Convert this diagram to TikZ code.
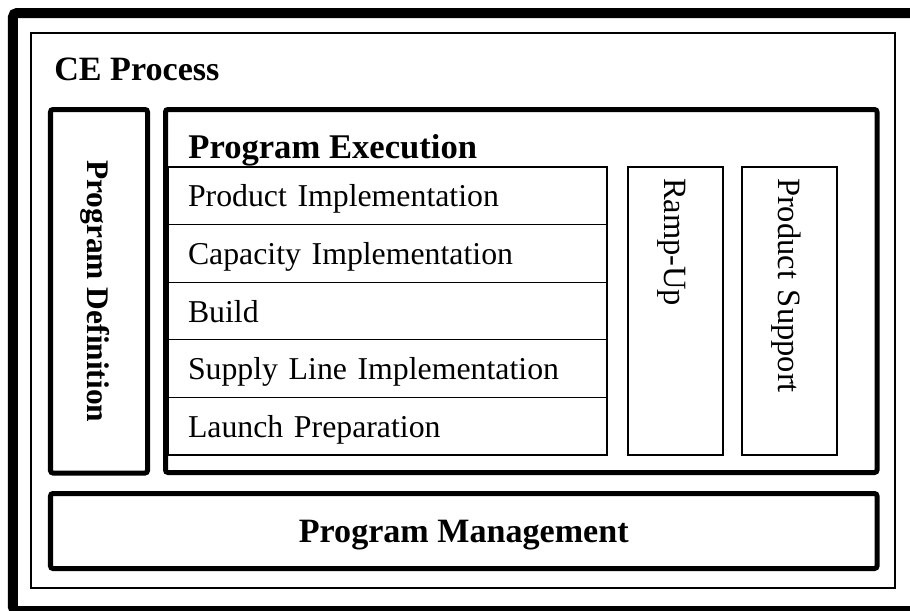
\documentclass[tikz,border=0pt]{standalone}
\usepackage{fontspec}
\setmainfont{Liberation Serif}
\usetikzlibrary{positioning}

\begin{document}
\begin{tikzpicture}[
  box/.style={rectangle, draw, line width=0.7pt, outer sep=0pt, inner sep=0pt},
  phase/.style={rectangle, draw, line width=0.1cm, rounded corners=0.05cm,
    outer sep=0pt, font=\fontsize{19.4}{23}\selectfont\bfseries},
  task/.style={box, font=\fontsize{18.5}{22}\selectfont,
    text height=0.44cm, text depth=0pt},
  row/.style={task, minimum width=8.78cm, minimum height=1.152cm,
    text width=7.98cm, inner xsep=0.4cm, font=\fontsize{18.1}{22}\selectfont},
  stage/.style={task, rotate=-90, minimum width=5.76cm, minimum height=1.9cm,
    text width=5.32cm, inner xsep=0.22cm},
  head/.style={font=\fontsize{19.4}{23}\selectfont\bfseries, inner sep=0pt,
    anchor=base west},
  node distance=0cm
]
  \useasboundingbox (0,0) rectangle (18.2,-12.2);
  \clip (0,0) rectangle (18.2,-12.2);

  % outer frame (runs off the page on the right)
  \draw[line width=0.2cm, rounded corners=0.08cm] (0.26,-0.26) rectangle (18.4,-12.22);

  \node[box, minimum width=17.28cm, minimum height=11.1cm, anchor=north west] (ce) at (0.62,-0.66) {};
  \node[head] (ceT) at (1.08,-1.6) {CE Process};

  \node[phase, rotate=-90, minimum width=7.27cm, minimum height=1.94cm,
    font=\fontsize{17.9}{21}\selectfont\bfseries,
    text height=0.44cm, text depth=0pt] (def) at (1.98,-5.825) {Program Definition};

  \node[phase, minimum width=14.23cm, minimum height=7.26cm, anchor=north west] (exec) at (3.31,-2.19) {};
  \node[head, font=\fontsize{19.7}{23}\selectfont\bfseries] (execT) at (3.76,-3.16) {Program Execution};

  \node[row, anchor=north west] (prod) at (3.36,-3.34) {Product Implementation};
  \node[row, below=of prod] (cap) {Capacity Implementation};
  \node[row, below=of cap] (build) {Build};
  \node[row, below=of build] (supply) {Supply Line Implementation};
  \node[row, below=of supply] (launch) {Launch Preparation};

  \node[stage] (ramp) at (13.51,-6.22) {Ramp-Up};
  \node[stage] (support) at (15.79,-6.22) {Product Support};

  \node[phase, minimum width=16.53cm, minimum height=1.5cm, text height=0.46cm,
    text depth=0pt, anchor=north west] (mgmt) at (1.01,-9.87) {Program Management};
\end{tikzpicture}
\end{document}
